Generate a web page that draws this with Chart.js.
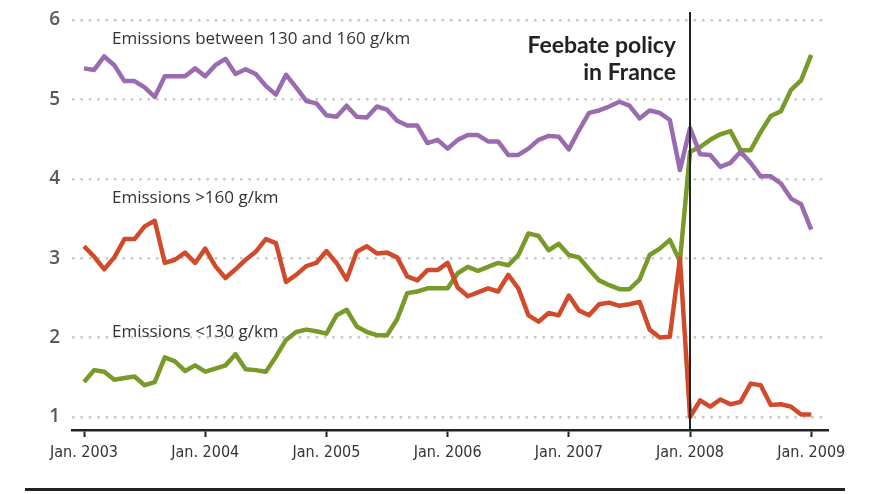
<!DOCTYPE html>
<html>
<head>
<meta charset="utf-8">
<style>
  body { margin: 0; background: #fff; }
  #wrap { width: 871px; height: 494px; position: relative; }
</style>
</head>
<body>
<div id="wrap"><canvas id="myChart"></canvas></div>
<script src="https://cdn.jsdelivr.net/npm/chart.js@4.4.1/dist/chart.umd.min.js"></script>
<script>
  // monthly values, Jan. 2003 (index 0) to Jan. 2009 (index 72)
  const between130and160 = [
    5.39, 5.37, 5.54, 5.43, 5.23, 5.23, 5.15, 5.03, 5.29, 5.29, 5.29, 5.39,
    5.29, 5.43, 5.51, 5.32, 5.38, 5.32, 5.17, 5.06, 5.31, 5.15, 4.98, 4.95,
    4.80, 4.78, 4.92, 4.78, 4.77, 4.91, 4.87, 4.73, 4.67, 4.67, 4.45, 4.49,
    4.38, 4.49, 4.55, 4.55, 4.47, 4.47, 4.30, 4.30, 4.38, 4.49, 4.54, 4.53,
    4.37, 4.61, 4.83, 4.86, 4.91, 4.97, 4.92, 4.76, 4.86, 4.83, 4.74, 4.11,
    4.64, 4.31, 4.30, 4.15, 4.20, 4.34, 4.20, 4.03, 4.03, 3.94, 3.75, 3.68,
    3.36
  ];
  const above160 = [
    3.15, 3.02, 2.86, 3.01, 3.24, 3.24, 3.40, 3.47, 2.94, 2.98, 3.07, 2.94,
    3.12, 2.90, 2.75, 2.86, 2.98, 3.08, 3.24, 3.19, 2.70, 2.79, 2.90, 2.94,
    3.09, 2.94, 2.73, 3.08, 3.15, 3.06, 3.07, 3.01, 2.77, 2.72, 2.85, 2.85,
    2.94, 2.63, 2.52, 2.57, 2.62, 2.58, 2.79, 2.62, 2.28, 2.20, 2.31, 2.28,
    2.53, 2.34, 2.28, 2.42, 2.44, 2.40, 2.42, 2.45, 2.10, 2.00, 2.01, 3.00,
    1.00, 1.21, 1.13, 1.22, 1.16, 1.19, 1.42, 1.40, 1.15, 1.16, 1.13, 1.03,
    1.03
  ];
  const below130 = [
    1.44, 1.59, 1.57, 1.47, 1.49, 1.51, 1.40, 1.44, 1.75, 1.70, 1.58, 1.65,
    1.57, 1.61, 1.65, 1.79, 1.60, 1.59, 1.57, 1.76, 1.97, 2.07, 2.10, 2.08,
    2.05, 2.28, 2.35, 2.14, 2.07, 2.03, 2.03, 2.23, 2.56, 2.58, 2.62, 2.62,
    2.62, 2.81, 2.89, 2.84, 2.89, 2.94, 2.91, 3.04, 3.31, 3.28, 3.10, 3.18,
    3.04, 3.01, 2.86, 2.72, 2.66, 2.61, 2.61, 2.73, 3.04, 3.12, 3.23, 2.96,
    4.34, 4.40, 4.49, 4.56, 4.60, 4.36, 4.36, 4.59, 4.79, 4.85, 5.12, 5.24,
    5.56
  ];
  const xTickLabels = ["Jan. 2003", "Jan. 2004", "Jan. 2005", "Jan. 2006", "Jan. 2007", "Jan. 2008", "Jan. 2009"];
  const yTicks = [1, 2, 3, 4, 5, 6];
  const policyMonth = 60;

  const toPoints = arr => arr.map((v, i) => ({ x: i, y: v }));

  const extras = {
    id: "extras",
    afterDatasetsDraw(chart) {
      const c = chart.ctx, xs = chart.scales.x, a = chart.chartArea;
      c.save();
      // policy line
      const px = Math.round(xs.getPixelForValue(policyMonth));
      c.strokeStyle = "#222";
      c.lineWidth = 2;
      c.beginPath();
      c.moveTo(px, a.top);
      c.lineTo(px, a.bottom);
      c.stroke();

      c.fillStyle = "#333";
      c.font = "17px 'Open Sans', sans-serif";
      c.textAlign = "left";
      c.textBaseline = "middle";
      c.fillText("Emissions between 130 and 160 g/km", 112, 39);
      c.fillText("Emissions >160 g/km", 112, 198);
      c.fillText("Emissions <130 g/km", 112, 332);

      c.fillStyle = "#222";
      c.font = "bold 23px Lato, sans-serif";
      c.textAlign = "right";
      c.fillText("Feebate policy", 676, 46);
      c.fillText("in France", 676, 73);

      // bottom rule
      c.fillRect(25, 488, 820, 3);
      c.restore();
    }
  };

  const ctx = document.getElementById("myChart").getContext("2d");
  const myChart = new Chart(ctx, {
    type: "line",
    data: {
      datasets: [
        { label: "between 130 and 160", data: toPoints(between130and160), borderColor: "#9b6bb0" },
        { label: ">160", data: toPoints(above160), borderColor: "#cf4b2b" },
        { label: "<130", data: toPoints(below130), borderColor: "#779a29" }
      ]
    },
    options: {
      responsive: true,
      maintainAspectRatio: false,
      animation: false,
      layout: { padding: { top: 12, right: 43, left: 0, bottom: 0 } },
      elements: {
        line: { borderWidth: 4.5, tension: 0, borderJoinStyle: "round" },
        point: { radius: 0 }
      },
      plugins: { legend: { display: false }, tooltip: { enabled: false } },
      scales: {
        x: {
          type: "linear",
          min: -1.19,
          max: 73.66,
          afterBuildTicks: axis => { axis.ticks = xTickLabels.map((t, i) => ({ value: i * 12 })); },
          afterFit: axis => { axis.height = 64; axis.paddingLeft = 0; axis.paddingRight = 0; },
          grid: { drawOnChartArea: false, drawTicks: true, tickLength: 7, tickColor: "#222", tickWidth: 2 },
          border: { display: true, color: "#222", width: 2.5 },
          ticks: {
            color: "#333",
            font: { family: "'Liberation Sans Narrow', 'DejaVu Sans Condensed', sans-serif", size: 16 },
            padding: 6,
            maxRotation: 0,
            callback: v => xTickLabels[Math.round(v / 12)]
          }
        },
        y: {
          min: 0.836,
          max: 6.1,
          afterBuildTicks: axis => { axis.ticks = yTicks.map(v => ({ value: v })); },
          afterFit: axis => { axis.width = 72; axis.paddingTop = 0; axis.paddingBottom = 0; },
          border: { display: false, dash: [2.5, 5.9] },
          grid: { color: "#c8c8c8", lineWidth: 2.5, drawTicks: false },
          ticks: {
            color: "#5a5a5a",
            padding: 12,
            font: { family: "'Open Sans', sans-serif", size: 19, weight: "600" }
          }
        }
      }
    },
    plugins: [extras]
  });
</script>
</body>
</html>
